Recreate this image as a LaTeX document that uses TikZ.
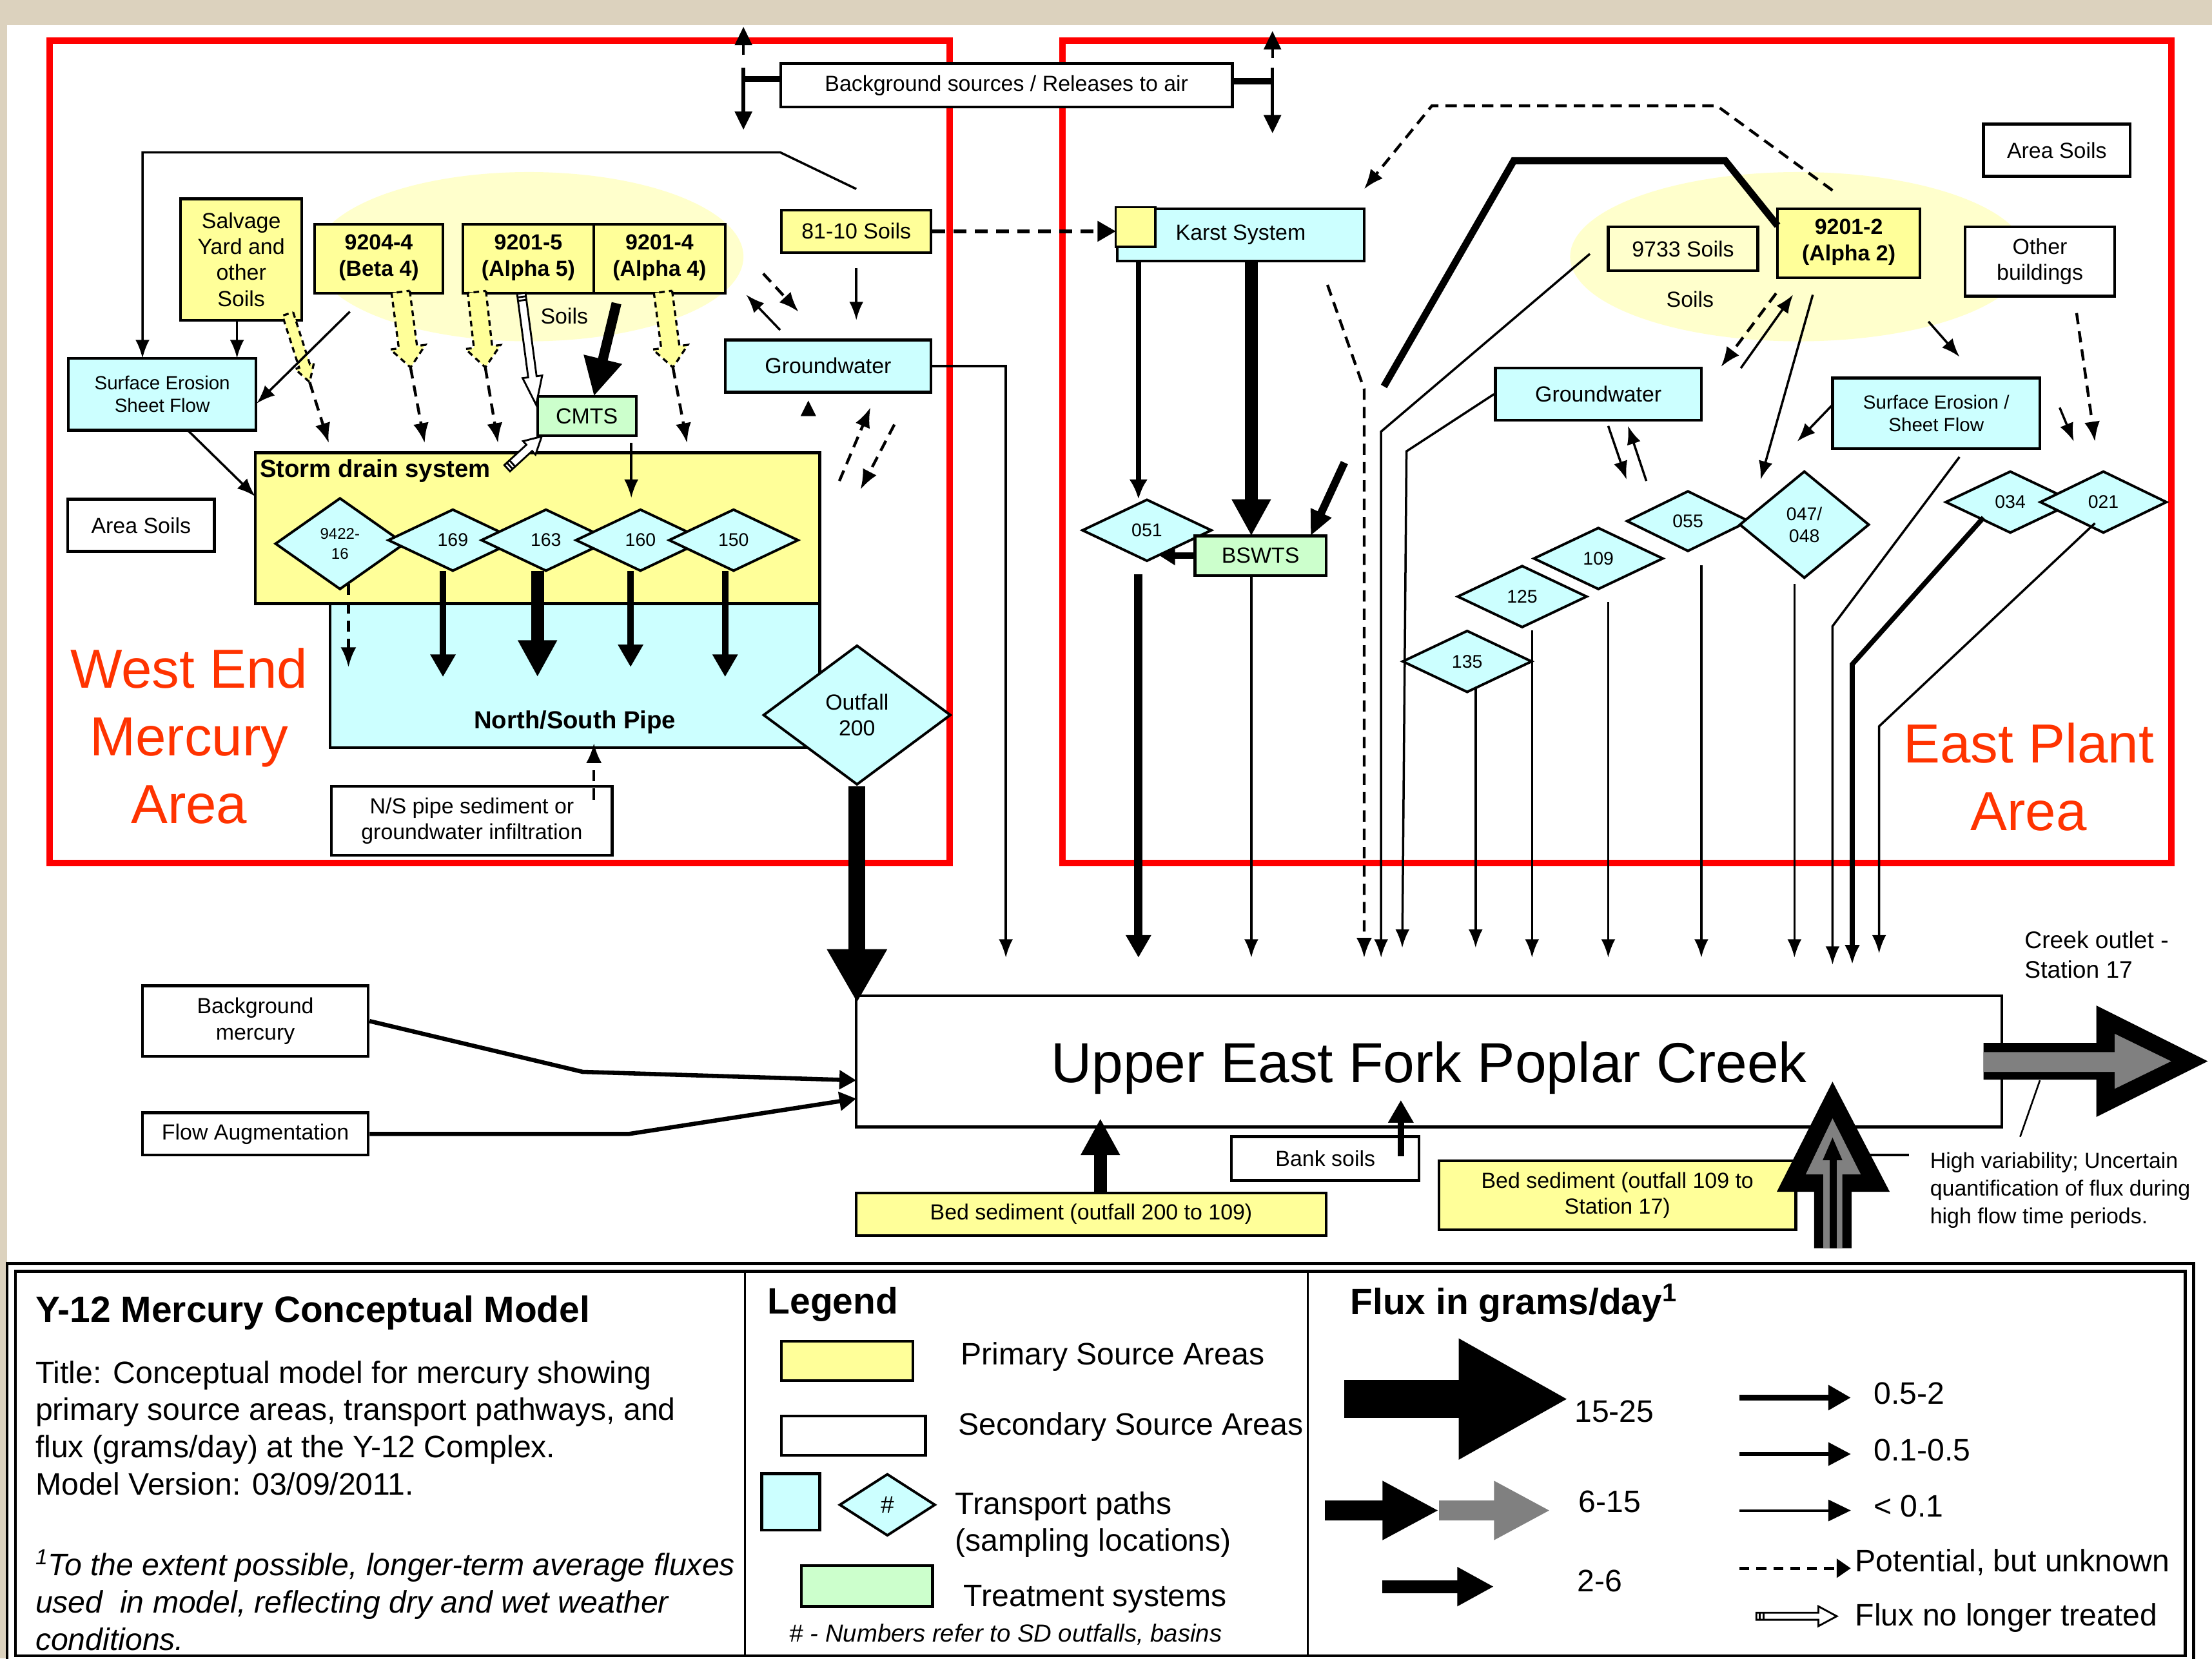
\documentclass[tikz,border=0pt]{standalone}
\usepackage{fontspec}
\setmainfont{Liberation Sans}
\usetikzlibrary{shapes.geometric,arrows.meta}

\definecolor{srcyellow}{HTML}{FFFF99}
\definecolor{paleyellow}{HTML}{FFFFCC}
\definecolor{pathcyan}{HTML}{CCFFFF}
\definecolor{treatgreen}{HTML}{CCFFCC}
\definecolor{areared}{HTML}{FF0000}
\definecolor{areatext}{HTML}{FF3300}
\definecolor{fluxgrey}{HTML}{808080}
\definecolor{backbeige}{HTML}{DCD2BE}

\tikzset{
  pics/hatcharrow/.style n args={4}{code={
    \draw[line width=1.5pt, dash pattern=on 4pt off 3pt, fill=srcyellow]
      (0,-#2) -- (#1-#4,-#2) -- (#1-#4,-#3) -- (#1,0) -- (#1-#4,#3) -- (#1-#4,#2) -- (0,#2) -- cycle;}},
  pics/hollowarrow/.style n args={4}{code={
    \draw[line width=1.3pt, fill=white]
      (0,-#2) -- (#1-#4,-#2) -- (#1-#4,-#3) -- (#1,0) -- (#1-#4,#3) -- (#1-#4,#2) -- (0,#2) -- cycle;
    \draw[line width=1.3pt] (2.5,-#2) -- (2.5,#2) (5,-#2) -- (5,#2);}}
}

\begin{document}
\begin{tikzpicture}[x=1pt, y=-1pt, font=\fontsize{15.5}{18.5}\selectfont,
  box/.style={draw, line width=2pt, align=center, inner sep=1pt},
  primary/.style={box, fill=srcyellow},
  secondary/.style={box, fill=white},
  transport/.style={box, fill=pathcyan},
  treatment/.style={box, fill=treatgreen},
  boldtxt/.style={font=\fontsize{15.5}{19}\selectfont\bfseries},
  smalltxt/.style={font=\fontsize{13.5}{16}\selectfont},
  sampling/.style={diamond, draw, line width=1.8pt, fill=pathcyan, inner sep=0pt, align=center,
    minimum width=92pt, minimum height=44pt, font=\fontsize{13}{15.5}\selectfont},
  lbl/.style={inner sep=0pt, align=left},
  keytxt/.style={lbl, anchor=west, font=\fontsize{22}{26}\selectfont},
  areatxt/.style={text=areatext, align=center, font=\fontsize{39}{48}\selectfont},
  lowflow/.style={line width=1.6pt, -{Latex[length=13pt,width=10pt]}},
  midflow/.style={line width=3.5pt, -{Latex[length=14pt,width=13pt]}},
  potflow/.style={line width=2pt, dash pattern=on 8pt off 5pt, -{Latex[length=14pt,width=11pt]}},
  flux1525/.style={line width=27pt, -{Triangle[length=78pt,width=80pt]}},
  flux615/.style={line width=14pt, -{Triangle[length=40pt,width=39pt]}},
  flux26/.style={line width=9pt, -{Triangle[length=26pt,width=26pt]}},
  flux052/.style={line width=4.5pt, -{Triangle[length=16pt,width=17pt]}},
  flux0105/.style={line width=3pt, -{Triangle[length=16pt,width=16pt]}},
  flux01/.style={line width=1.8pt, -{Triangle[length=16pt,width=15pt]}}
]
\useasboundingbox (0,0) rectangle (1568,1176);
\fill[backbeige] (0,0) rectangle (1568,1176);
\fill[white] (5,18) rectangle (1568,1176);

\fill[paleyellow] (375,182) ellipse [x radius=152pt, y radius=60pt];
\fill[paleyellow] (1275,182) ellipse [x radius=162pt, y radius=60pt];

\draw[areared, line width=4.6pt] (35,29) rectangle (673,612);
\draw[areared, line width=4.6pt] (753,29) rectangle (1539,612);

\node[areatxt] (westlbl) at (134,522) {West End\\Mercury\\Area};
\node[areatxt] (eastlbl) at (1438,551) {East Plant\\Area};

\node[secondary, minimum width=320pt, minimum height=31pt] (bgsrc) at (713.5,60.5) {Background sources / Releases to air};
\draw[line width=4.5pt] (bgsrc.west |- 553,56) -- (527,56);
\draw[line width=2.5pt, -{Triangle[length=13pt,width=12pt]}] (527,48) -- (527,92);
\draw[line width=2pt, -{Triangle[length=13pt,width=12pt]}] (527,39) -- (527,19);
\draw[line width=4.5pt] (bgsrc.east |- 873,57.5) -- (902,57.5);
\draw[line width=2.5pt, -{Triangle[length=13pt,width=12pt]}] (902,48) -- (902,94.5);
\draw[line width=2pt, -{Triangle[length=13pt,width=12pt]}] (902,41) -- (902,22);

\node[primary, minimum width=86pt, minimum height=86pt] (salvage) at (171,184) {Salvage\\Yard and\\other\\Soils};
\node[primary, boldtxt, minimum width=91pt, minimum height=49pt, text depth=5pt] (beta4) at (268.5,183.5) {9204-4\\(Beta 4)};
\node[primary, boldtxt, minimum width=93pt, minimum height=49pt, text depth=5pt] (alpha5) at (374.5,183.5) {9201-5\\(Alpha 5)};
\node[primary, boldtxt, minimum width=93pt, minimum height=49pt, text depth=5pt] (alpha4) at (467.5,183.5) {9201-4\\(Alpha 4)};
\node (soilsW) at (400,224) {Soils};
\node[primary, minimum width=106pt, minimum height=30pt] (soils8110) at (607,164) {81-10 Soils};
\node[transport, minimum width=146pt, minimum height=37pt] (gwW) at (587,259.5) {Groundwater};
\node[transport, smalltxt, minimum width=133pt, minimum height=51pt] (sheetW) at (115,279.5) {Surface Erosion\\Sheet Flow};
\node[secondary, minimum width=104pt, minimum height=37pt] (areaW) at (100,372.5) {Area Soils};
\node[transport, minimum width=347pt, minimum height=102pt] (pipe) at (407.5,479) {};
\node[primary, minimum width=400pt, minimum height=107pt] (storm) at (381,374.5) {};
\node[lbl, anchor=west, font=\fontsize{17.5}{21}\selectfont\bfseries] (stormlbl) at (184,334) {Storm drain system};
\node[font=\fontsize{17.5}{21}\selectfont\bfseries] (pipelbl) at (407.5,512) {North/South Pipe};
\node[sampling, minimum height=65pt, font=\fontsize{11}{14}\selectfont] (d942216) at (241,385.5) {9422-\\16};
\node[sampling] (d169) at (321,383) {169};
\node[sampling] (d163) at (387,383) {163};
\node[sampling] (d160) at (454,383) {160};
\node[sampling] (d150) at (520,383) {150};
\node[treatment, minimum width=70pt, minimum height=28pt] (cmts) at (416,295) {CMTS};
\node[sampling, minimum width=133pt, minimum height=99pt, font=\fontsize{15.5}{18.5}\selectfont] (out200) at (607.5,507) {Outfall\\200};
\node[secondary, minimum width=199pt, minimum height=49pt] (nssed) at (334.5,582) {N/S pipe sediment or\\groundwater infiltration};
\node[secondary, minimum width=160pt, minimum height=50pt] (bgmerc) at (181,724) {Background\\mercury};
\node[secondary, minimum width=160pt, minimum height=30pt] (flowaug) at (181,804) {Flow Augmentation};

\pic[rotate=-72.2] at (204,222.6) {hatcharrow={50.8}{4}{7}{12}};
\pic[rotate=-82.5] at (284,207) {hatcharrow={54}{6.5}{12.5}{14.5}};
\pic[rotate=-83.6] at (338,207) {hatcharrow={53.8}{6.5}{12.5}{14.5}};
\pic[rotate=-82.5] at (470,207) {hatcharrow={54}{6.5}{12.5}{14.5}};
\draw[potflow] (219.5,271) -- (233,314);
\draw[potflow] (291,260.5) -- (301,314);
\draw[potflow] (344,260.5) -- (353,314);
\draw[potflow] (477,260.5) -- (487,314);
\pic[rotate=-82.4] at (369.5,208) {hollowarrow={79.7}{3}{7}{20}};
\pic[rotate=42.6] at (359.5,332) {hollowarrow={33.3}{3}{6.5}{12}};
\draw[line width=7pt, -{Triangle[length=27pt,width=26pt]}] (437,215) -- (421,281);
\draw[lowflow] (447.5,314) -- (447.5,353);

\draw[lowflow] (607,134) -- (553,108) -- (101,108) -- (101,254);
\draw[lowflow] (168,227) -- (168,254);
\draw[lowflow] (248,221) -- (182,286);
\draw[lowflow] (133,305) -- (181,352);
\draw[lowflow] (soils8110.south) ++(0,10) -- (607,227);
\draw[potflow] (541,194) -- (566,221);
\draw[lowflow] (553,234) -- (529,209);
\draw[lowflow] (gwW.east) -- (713,259.5) -- (713,679);
\fill (573,284) -- (567.5,295) -- (578.5,295) -- cycle;
\draw[potflow] (595,341) -- (617,289);
\draw[potflow] (634,301) -- (610,347);

\draw[potflow] (247,414) -- (247,473);
\draw[flux052] (314,405) -- (314,480);
\draw[flux26] (381,405) -- (381,480);
\draw[flux052] (447,405) -- (447,473);
\draw[flux052] (514,405) -- (514,480);
\draw[potflow] (421,567) -- (421,527);

\node[transport, minimum width=175pt, minimum height=37pt] (karst) at (879.5,166.5) {Karst System};
\draw[line width=1.5pt, fill=srcyellow] (karst.north west) rectangle ++(28,28);
\node[secondary, minimum width=104pt, minimum height=37pt] (areaE) at (1458,106.5) {Area Soils};
\node[box, fill=paleyellow, minimum width=106pt, minimum height=31pt] (soils9733) at (1193,176.5) {9733 Soils};
\node[primary, boldtxt, minimum width=101pt, minimum height=49pt, text depth=5pt] (alpha2) at (1310.5,172.5) {9201-2\\(Alpha 2)};
\node[secondary, minimum width=106pt, minimum height=49pt] (otherbld) at (1446,185.5) {Other\\buildings};
\node (soilsE) at (1198,212) {Soils};
\node[transport, minimum width=146pt, minimum height=37pt] (gwE) at (1133,279.5) {Groundwater};
\node[transport, smalltxt, minimum width=147pt, minimum height=50pt] (sheetE) at (1372.5,293) {Surface Erosion /\\Sheet Flow};
\node[sampling] (d051) at (813,376) {051};
\node[treatment, minimum width=93pt, minimum height=28pt] (bswts) at (893.5,394) {BSWTS};
\node[sampling] (d135) at (1040,469) {135};
\node[sampling] (d125) at (1079,423) {125};
\node[sampling] (d109) at (1133,396) {109};
\node[sampling, minimum width=87pt, minimum height=43pt] (d055) at (1196.5,369.5) {055};
\node[sampling, minimum height=76pt] (d047) at (1279,372) {047/\\048};
\node[sampling] (d034) at (1425,356) {034};
\node[sampling, minimum width=90pt] (d021) at (1491,356) {021};

\draw[line width=3pt, dash pattern=on 9pt off 6pt, -{Triangle[length=13pt,width=14pt]}] (soils8110.east) -- (karst.west |- soils8110.east);
\draw[potflow] (1299,135) -- (1217,75) -- (1015,75) -- (967,134);
\draw[line width=5pt] (981,274) -- (1073,114) -- (1223,114) -- (1260,160);
\draw[midflow] (807,185) -- (807,354);
\draw[flux26] (887,185) -- (887,380);
\draw[line width=5.5pt, -{Triangle[length=18pt,width=15pt]}] (953,328) -- (929,380);
\draw[line width=4.5pt, -{Triangle[length=11pt,width=13pt]}] (bswts.west) -- (822,394);
\draw[line width=6pt, -{Triangle[length=16pt,width=17pt]}] (807,407) -- (807,679);
\draw[lowflow] (887,408) -- (887,679);
\draw[potflow] (941,202) -- (967,276) -- (967,679);
\draw[lowflow] (1127,180) -- (979,306) -- (979,679);
\draw[lowflow] (gwE.west) -- (997,320) -- (994,672);
\draw[lowflow] (1046,488) -- (1046,672);
\draw[lowflow] (1086,447) -- (1086,679);
\draw[lowflow] (1140,427) -- (1140,679);
\draw[lowflow] (1206,401) -- (1206,679);
\draw[lowflow] (1272,414) -- (1272,679);
\draw[lowflow] (1389,324) -- (1299,444) -- (1299,684);
\draw[line width=3.5pt, -{Latex[length=14pt,width=11pt]}] (1406,367) -- (1313,471) -- (1313,684);
\draw[lowflow] (1485,371) -- (1332,515) -- (1332,676);
\draw[lowflow] (1140,302) -- (1153,340);
\draw[lowflow] (1167,341) -- (1154,302);
\draw[potflow] (1259,208) -- (1220,260);
\draw[lowflow] (1234,261) -- (1271,209);
\draw[lowflow] (1285,209) -- (1248,340);
\draw[lowflow] (1367,228) -- (1389,253);
\draw[potflow] (1472,222) -- (1485,313);
\draw[lowflow] (1460,289) -- (1470,313);
\draw[lowflow] (1299,287) -- (1274,313);

\node[secondary, minimum width=812pt, minimum height=93pt] (creek) at (1013,752.5) {};
\node[font=\fontsize{40}{48}\selectfont, inner sep=0pt] (creeklbl) at (1013,757) {Upper East Fork Poplar Creek};
\node[lbl, anchor=west, font=\fontsize{17}{21}\selectfont] (outletlbl) at (1435,677) {Creek outlet -\\Station 17};
\fill (1406,739.5) -- (1486,739.5) -- (1486,713) -- (1565,752.5) -- (1486,792) -- (1486,765.5) -- (1406,765.5) -- cycle;
\fill[fluxgrey] (1406,746) -- (1499,746) -- (1499,733) -- (1539,752.5) -- (1499,772) -- (1499,760) -- (1406,760) -- cycle;
\draw[line width=1.2pt] (1446,766) -- (1432,806);
\node[lbl, anchor=west, font=\fontsize{15.5}{19.5}\selectfont] (varnote) at (1368,844) {High variability; Uncertain\\quantification of flux during\\high flow time periods.};
\draw[line width=12pt, -{Triangle[length=38pt,width=40pt]}] (out200.south) -- (607.5,711);
\draw[line width=3pt, -{Triangle[length=12pt,width=13pt]}] (bgmerc.east) -- (413,760) -- (607,766);
\draw[line width=3pt, -{Triangle[length=12pt,width=13pt]}] (flowaug.east) -- (446,804) -- (607,779);

\node[primary, minimum width=333pt, minimum height=30pt] (bedsed1) at (773.5,861) {Bed sediment (outfall 200 to 109)};
\node[secondary, minimum width=133pt, minimum height=31pt] (banksoils) at (939.5,821.5) {Bank soils};
\node[primary, minimum width=253pt, minimum height=49pt] (bedsed2) at (1146.5,847.5) {Bed sediment (outfall 109 to\\Station 17)};
\draw[flux26] (780,846) -- (780,793);
\draw[flux052] (993,820) -- (993,780);
\fill (1286,885) -- (1286,845) -- (1259.5,845) -- (1299,767) -- (1339.5,845) -- (1312.5,845) -- (1312.5,885) -- cycle;
\fill[fluxgrey] (1292.5,885) -- (1292.5,832.7) -- (1280,832.7) -- (1299,793) -- (1319,832.7) -- (1306,832.7) -- (1306,885) -- cycle;
\fill (1297,885) -- (1297,822.7) -- (1292,822.7) -- (1299,806.6) -- (1306,822.7) -- (1302,822.7) -- (1302,885) -- cycle;
\draw[line width=1.5pt] (1325,819) -- (1353,819);

\draw[line width=2pt] (5,896) rectangle (1555,1182);
\draw[line width=2pt] (11,901.5) rectangle (1549,1174);
\draw[line width=1.2pt] (528,901.5) -- (528,1174);
\draw[line width=1.2pt] (927,901.5) -- (927,1174);

\node[lbl, anchor=west, font=\fontsize{26}{30}\selectfont\bfseries] (modelttl) at (25,931) {Y-12 Mercury Conceptual Model};
\node[lbl, anchor=west, font=\fontsize{22}{26.4}\selectfont] (modeldesc) at (25,1012.5) {Title: Conceptual model for mercury showing\\primary source areas, transport pathways, and\\flux (grams/day) at the Y-12 Complex.\\Model Version: 03/09/2011.};
\node[lbl, anchor=west, font=\fontsize{22}{26.5}\selectfont\itshape] (modelnote) at (25,1134.5) {\textsuperscript{1}To the extent possible, longer-term average fluxes\\used\ \ in model, reflecting dry and wet weather\\conditions.};

\node[lbl, anchor=west, font=\fontsize{26}{30}\selectfont\bfseries] (legendttl) at (544,925) {Legend};
\node[primary, minimum width=93pt, minimum height=28pt] (keyprim) at (600.5,965) {};
\node[keytxt] (keyprimtxt) at (681,962) {Primary Source Areas};
\node[secondary, minimum width=102pt, minimum height=28pt] (keysec) at (605,1018) {};
\node[keytxt] (keysectxt) at (679,1012) {Secondary Source Areas};
\node[transport, minimum width=41pt, minimum height=40pt] (keytrans) at (560.5,1065) {};
\node[sampling, minimum width=68pt, minimum height=44pt, font=\fontsize{17}{20}\selectfont] (keysamp) at (629,1067) {\#};
\node[keytxt] (keytranstxt) at (677,1081) {Transport paths\\(sampling locations)};
\node[treatment, minimum width=93pt, minimum height=29pt] (keytreat) at (614.5,1124.5) {};
\node[keytxt] (keytreattxt) at (683,1134) {Treatment systems};
\node[font=\fontsize{17.5}{20}\selectfont\itshape, inner sep=0pt] (keynote) at (713,1159) {\# - Numbers refer to SD outfalls, basins};

\node[lbl, anchor=west, font=\fontsize{26}{30}\selectfont\bfseries] (fluxttl) at (957,924) {Flux in grams/day\textsuperscript{1}};
\draw[flux1525] (953,992) -- (1112,992);
\node[keytxt] (f1525) at (1116,1001) {15-25};
\draw[flux615] (939,1071) -- (1020,1071);
\draw[flux615, fluxgrey] (1020,1071) -- (1099,1071);
\node[keytxt] (f615) at (1119,1065) {6-15};
\draw[flux26] (980,1125) -- (1059,1125);
\node[keytxt] (f26) at (1118,1121) {2-6};
\draw[flux052] (1233,991) -- (1312,991);
\node[keytxt] (f052) at (1328,988) {0.5-2};
\draw[flux0105] (1233,1031) -- (1312,1031);
\node[keytxt] (f0105) at (1328,1028) {0.1-0.5};
\draw[flux01] (1233,1071) -- (1312,1071);
\node[keytxt] (f01) at (1328,1068) {< 0.1};
\draw[line width=2.5pt, dash pattern=on 7pt off 5pt, -{Triangle[length=10pt,width=13pt]}] (1233,1112) -- (1312,1112);
\node[keytxt] (fpot) at (1315,1108) {Potential, but unknown};
\pic at (1245,1146) {hollowarrow={57}{2.5}{7}{13}};
\node[keytxt] (fold) at (1315,1147) {Flux no longer treated};
\end{tikzpicture}
\end{document}
